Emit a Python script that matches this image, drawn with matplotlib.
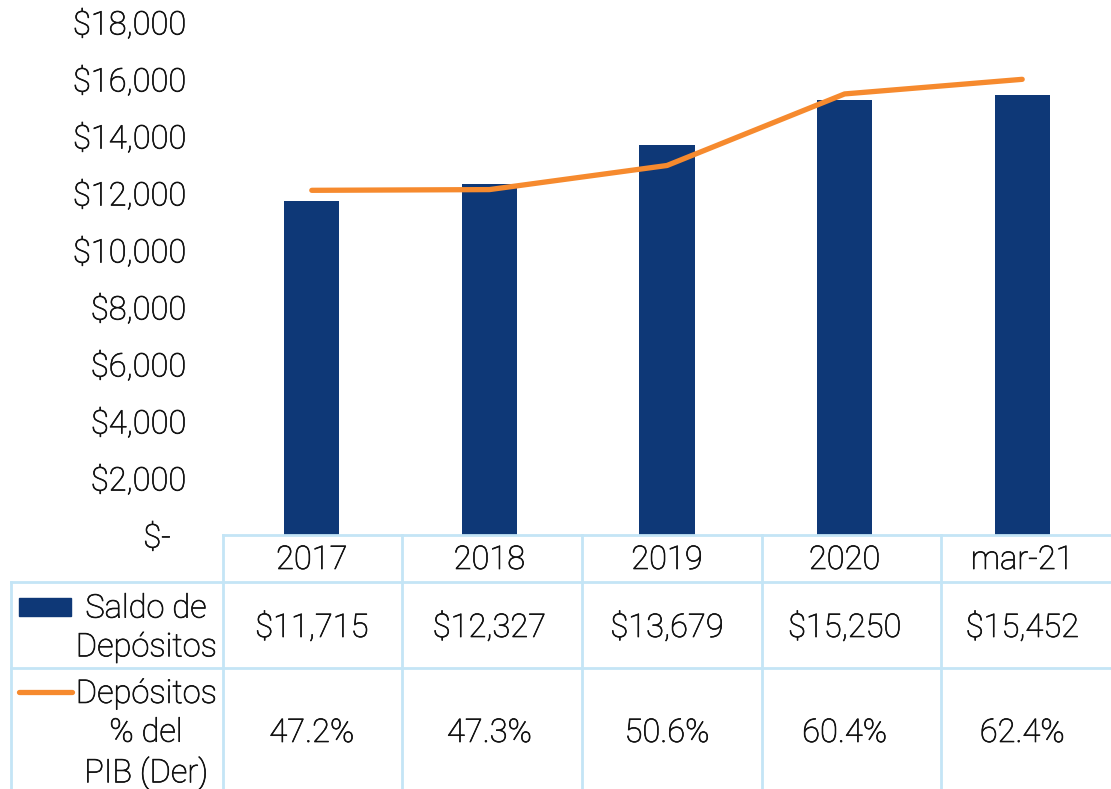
import matplotlib
matplotlib.use("Agg")
import matplotlib.pyplot as plt
import matplotlib.patheffects as pe
from matplotlib.lines import Line2D
from matplotlib.patches import Rectangle
from matplotlib.transforms import blended_transform_factory
from matplotlib.ticker import FuncFormatter

plt.rcParams['font.family'] = ['Roboto', 'DejaVu Sans']
plt.rcParams['font.weight'] = 'light'

# data
categories = ['2017', '2018', '2019', '2020', 'mar-21']
saldo = [11715, 12327, 13679, 15250, 15452]
pct_pib = [47.2, 47.3, 50.6, 60.4, 62.4]
row_labels = ['Saldo de\nDepósitos', 'Depósitos\n% del\nPIB (Der)']

W, H = 1111, 789
bar_color = '#0e3877'
line_color = '#f68a2e'
grid_color = '#c4e5f6'
txt_color = '#111111'
fs = 23.5
# thin outline to get a weight between light and regular
thick = [pe.withStroke(linewidth=0.5, foreground=txt_color)]


def fx(x):
    return x / W


def fy(y):
    return 1 - y / H


fig = plt.figure(figsize=(W / 100, H / 100), dpi=100)
ax = fig.add_axes([fx(223), fy(535), fx(1111) - fx(223), fy(22) - fy(535)])

xs = list(range(len(categories)))
ax.bar(xs, saldo, width=0.31, color=bar_color, zorder=2)
ax.set_xlim(-0.5, len(categories) - 0.5)
ax.set_ylim(0, 18000)
ax.set_yticks(range(0, 18001, 2000))
ax.yaxis.set_major_formatter(FuncFormatter(
    lambda v, p: '$-  ' if v == 0 else '${:,.0f}'.format(v)))
ax.tick_params(axis='y', length=0, pad=26.5, labelsize=fs, labelcolor=txt_color)
for lbl in ax.get_yticklabels():
    lbl.set_path_effects(thick)
ax.set_xticks([])
for s in ax.spines.values():
    s.set_visible(False)

# secondary axis for % of GDP
ax2 = ax.twinx()
ax2.plot(xs, pct_pib, color=line_color, lw=3.8, solid_capstyle='round', zorder=3)
ax2.set_ylim(0, 70.25)
ax2.axis('off')

# data table below the chart
def hline(y, x0, x1):
    fig.add_artist(Line2D([fx(x0), fx(x1)], [fy(y), fy(y)], color=grid_color,
                          lw=2, transform=fig.transFigure))


def vline(x, y0, y1):
    fig.add_artist(Line2D([fx(x), fx(x)], [fy(y0), fy(y1)], color=grid_color,
                          lw=2, transform=fig.transFigure))


hline(535, 223, 1111)
hline(582, 11, 1111)
hline(668, 11, 1111)
vline(11, 582, 789)
col_edges = [223, 402, 582, 762, 941]
for x in col_edges:
    vline(x, 535, 789)

tr = blended_transform_factory(ax.transData, fig.transFigure)
for i, c in enumerate(categories):
    fig.text(i, fy(560), c, transform=tr, ha='center', va='center',
             fontsize=fs, color=txt_color, path_effects=thick)
    fig.text(i, fy(628), '${:,.0f}'.format(saldo[i]), transform=tr,
             ha='center', va='center', fontsize=fs, color=txt_color,
             path_effects=thick)
    fig.text(i, fy(733), '{:.1f}%'.format(pct_pib[i]), transform=tr,
             ha='center', va='center', fontsize=fs, color=txt_color,
             path_effects=thick)

# row labels with legend keys
fig.text(fx(146), fy(628), row_labels[0], ha='center', va='center',
         fontsize=fs, linespacing=1.27, color=txt_color, path_effects=thick)
fig.text(fx(146), fy(734), row_labels[1], ha='center', va='center',
         fontsize=fs, linespacing=1.27, color=txt_color, path_effects=thick)
fig.add_artist(Rectangle((fx(19), fy(616)), fx(52), fy(598) - fy(616),
                         color=bar_color, transform=fig.transFigure))
fig.add_artist(Line2D([fx(19), fx(72)], [fy(692), fy(692)], color=line_color,
                      lw=3.8, solid_capstyle='round', transform=fig.transFigure))

fig.savefig('out.png', dpi=100)
